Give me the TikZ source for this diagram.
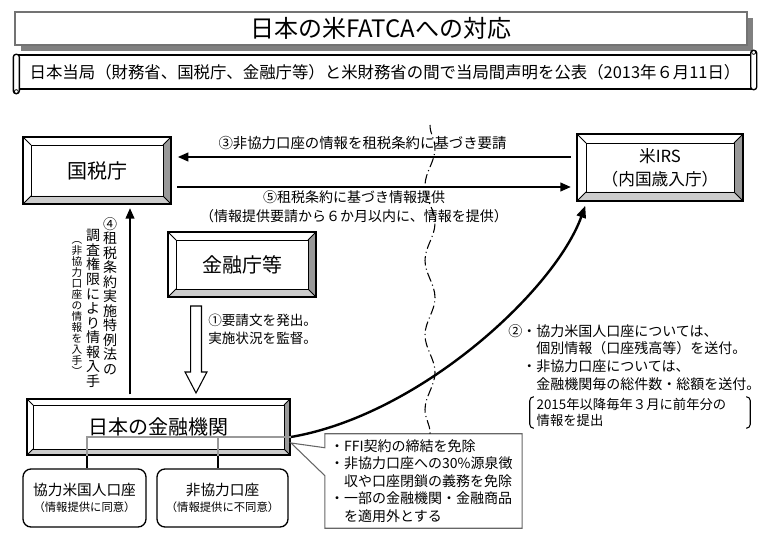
\documentclass[tikz,border=0pt]{standalone}
\usepackage{fontspec}
\setmainfont{Noto Sans CJK JP}
\usetikzlibrary{arrows.meta,shadows,decorations.pathmorphing}

\tikzset{
  bevel/.style={draw, line width=1.1pt, fill=white, inner sep=0pt,
    path picture={
      \coordinate (bNE) at (path picture bounding box.north east);
      \coordinate (bNW) at (path picture bounding box.north west);
      \coordinate (bSE) at (path picture bounding box.south east);
      \coordinate (bSW) at (path picture bounding box.south west);
      \fill[black!40] (bNE) -- (bSE) -- ([shift={(-#1,#1)}]bSE) -- ([shift={(-#1,-#1)}]bNE) -- cycle;
      \fill[black!20] (bSW) -- (bSE) -- ([shift={(-#1,#1)}]bSE) -- ([shift={(#1,#1)}]bSW) -- cycle;
      \draw[line width=0.7pt] ([shift={(#1,-#1)}]bNW) rectangle ([shift={(-#1,#1)}]bSE);
      \draw[line width=0.6pt] (bNW) -- ([shift={(#1,-#1)}]bNW) (bNE) -- ([shift={(-#1,-#1)}]bNE)
        (bSW) -- ([shift={(#1,#1)}]bSW) (bSE) -- ([shift={(-#1,#1)}]bSE);
    }},
  bevel/.default=6pt,
  arr/.style={line width=1.6pt, -{Triangle[length=8pt,width=6.5pt]}},
  lbl/.style={inner sep=0pt, font=\fontsize{10.5}{14.25}\selectfont},
  acct/.style={draw, line width=1pt, rounded corners=6pt, minimum height=43.5pt,
    align=center, inner sep=0pt, font=\fontsize{11}{12}\selectfont},
  vcol/.style={align=center, inner sep=0pt, font=\fontsize{10.5}{10.9}\selectfont}
}

\begin{document}
\begin{tikzpicture}[x=0.75pt, y=-0.75pt]
\useasboundingbox (0,0) rectangle (780,534);

% title and scroll
\node[draw=black!55, line width=1pt, fill=white,
  drop shadow={shadow xshift=4.5pt, shadow yshift=-4.5pt, fill=black!50, opacity=1},
  minimum width=549pt, minimum height=24.75pt, font=\fontsize{18}{20}\selectfont]
  (title) at (381,28.5) {日本の米FATCAへの対応};
\node[draw, line width=1pt, fill=white, minimum width=552pt, minimum height=25.5pt,
  font=\fontsize{12.3}{14}\selectfont] (scroll) at (385,72)
  {日本当局（財務省、国税庁、金融庁等）と米財務省の間で当局間声明を公表（2013年６月11日）};
\draw[line width=1pt, fill=white, rounded corners=2pt]
  ([xshift=-2.25pt]scroll.north west) rectangle ([shift={(2.25pt,-3pt)}]scroll.south west);
\draw[line width=1pt, fill=white, rounded corners=2pt]
  ([shift={(-2.25pt,3pt)}]scroll.north east) rectangle ([xshift=2.25pt]scroll.south east);
\draw[line width=0.6pt] ([yshift=1.5pt]scroll.north east) circle (1.5pt);
\draw[line width=0.6pt] ([yshift=-1.5pt]scroll.south west) circle (1.5pt);

% authorities
\node[bevel, minimum width=111pt, minimum height=50.25pt, font=\fontsize{15}{18}\selectfont]
  (nta) at (97,170.5) {国税庁};
\node[bevel=6.75pt, minimum width=124.5pt, minimum height=50.25pt, align=center,
  font=\fontsize{12.5}{17.25}\selectfont] (irs) at (660,167.5) {米IRS\\（内国歳入庁）};
\node[bevel, minimum width=111pt, minimum height=48.75pt, font=\fontsize{15}{18}\selectfont]
  (fsa) at (242,264.5) {金融庁等};
\node[bevel=4.5pt, minimum width=197.25pt, minimum height=42pt, font=\fontsize{15}{18}\selectfont]
  (fi) at (158.5,427) {日本の金融機関};

% accounts
\node[acct, minimum width=92.25pt] (coop) at (84.5,498)
  {協力米国人口座\\{\fontsize{8.5}{10}\selectfont （情報提供に同意）}};
\node[acct, minimum width=98.25pt] (noncoop) at (222.5,498)
  {非協力口座\\{\fontsize{8.5}{10}\selectfont （情報提供に不同意）}};

% exemptions
\node[text width=140pt, align=left, inner xsep=3.75pt, inner ysep=0pt, minimum height=70.5pt,
  font=\fontsize{10.5}{13.1}\selectfont] (note) at (423.5,481)
  {・FFI契約の締結を免除\\・非協力口座への30\%源泉徴\\\hspace*{1em}収や口座閉鎖の義務を免除\\
   ・一部の金融機関・金融商品\\\hspace*{1em}を適用外とする};
\coordinate (ptr) at (291,443);
\draw[black!60, line width=0.8pt] ([yshift=-10.5pt]note.north west) -- (note.north west)
  -- (note.north east) -- (note.south east) -- (note.south west)
  -- ([yshift=-31.5pt]note.north west) -- (ptr) -- cycle;

% border between the countries
\coordinate (divtop) at (430,125);
\draw[decorate, decoration={snake, amplitude=3.75pt, segment length=56pt}, line width=0.8pt,
  dash pattern=on 7pt off 2.5pt on 0.8pt off 2.5pt] (divtop) -- (divtop |- note.north);

% requests and information
\coordinate (row3) at (0,157);
\coordinate (row5) at (0,187);
\draw[arr, shorten <=4pt, shorten >=4.5pt] (irs.west |- row3) -- (nta.east |- row3);
\draw[arr, shorten <=4pt, shorten >=4pt] (nta.east |- row5) -- (irs.west |- row5);
\node[lbl, font=\fontsize{10.8}{14}\selectfont] (q3) at (362.5,143) {③非協力口座の情報を租税条約に基づき要請};
\node[lbl, align=center] (q5) at (354,206.5) {⑤租税条約に基づき情報提供\\（情報提供要請から６か月以内に、情報を提供）};

\coordinate (col4) at (130,0);
\draw[arr, shorten <=3pt, shorten >=2.5pt] (fi.north -| col4) -- (nta.south -| col4);
\node[vcol] (law1) at (110,296) {④\\租\\税\\条\\約\\実\\施\\特\\例\\法\\の};
\node[vcol] (law2) at (93,308.5) {調\\査\\権\\限\\に\\よ\\り\\情\\報\\入\\手};
\node[vcol, font=\fontsize{8}{8.3}\selectfont] (law3) at (77,308.5)
  {︵\\非\\協\\力\\口\\座\\の\\情\\報\\を\\入\\手\\︶};

% supervision
\coordinate (a1) at (196,306);
\draw[line width=0.8pt, fill=white] (a1) ++(-4.1pt,0) -- ++(8.2pt,0) -- ++(0,-49.5pt)
  -- ++(4.1pt,0) -- ++(-8.2pt,-15.75pt) -- ++(-8.2pt,15.75pt) -- ++(4.1pt,0) -- cycle;
\node[anchor=west, align=left, inner sep=0pt, font=\fontsize{10.2}{13.5}\selectfont]
  (q1) at (208,329) {①要請文を発出。\\実施状況を監督。};

% reporting
\draw[line width=1.8pt, -{Triangle[length=9pt,width=7pt]}] ([yshift=-7.5pt]fi.east)
  .. controls (420,415) and (555,290) .. ([shift={(6.75pt,-3pt)}]irs.south west);
\node[anchor=north west, align=left, inner sep=0pt, font=\fontsize{10.5}{13.3}\selectfont]
  (send) at (508,324) {②・協力米国人口座については、\\\hspace*{2em}個別情報（口座残高等）を送付。\\
  \hspace*{1em}・非協力口座については、\\\hspace*{2em}金融機関毎の総件数・総額を送付。};
\node[text width=155pt, align=left, inner xsep=5pt, inner ysep=1pt, font=\fontsize{10}{12}\selectfont]
  (annual) at (640,412.5) {2015年以降毎年３月に前年分の\\情報を提出};
\draw[line width=0.8pt] ([xshift=3pt]annual.north west) to[out=180,in=90] ([yshift=-3pt]annual.north west)
  -- ([yshift=3pt]annual.south west) to[out=-90,in=180] ([xshift=3pt]annual.south west);
\draw[line width=0.8pt] ([xshift=-3pt]annual.north east) to[out=0,in=90] ([yshift=-3pt]annual.north east)
  -- ([yshift=3pt]annual.south east) to[out=-90,in=0] ([xshift=-3pt]annual.south east);

% links to the accounts
\coordinate (gx1) at (87,437);
\coordinate (gx2) at (218,437);
\draw[black!40, line width=1.1pt] (fi.east |- gx1) -- (gx1) -- (gx1 |- fi.south)
  (gx2) -- (gx2 |- fi.south);
\draw[line width=1.6pt] (gx1 |- fi.south) -- (gx1 |- coop.north);
\draw[line width=1.6pt] (gx2 |- fi.south) -- (gx2 |- noncoop.north);
\end{tikzpicture}
\end{document}
